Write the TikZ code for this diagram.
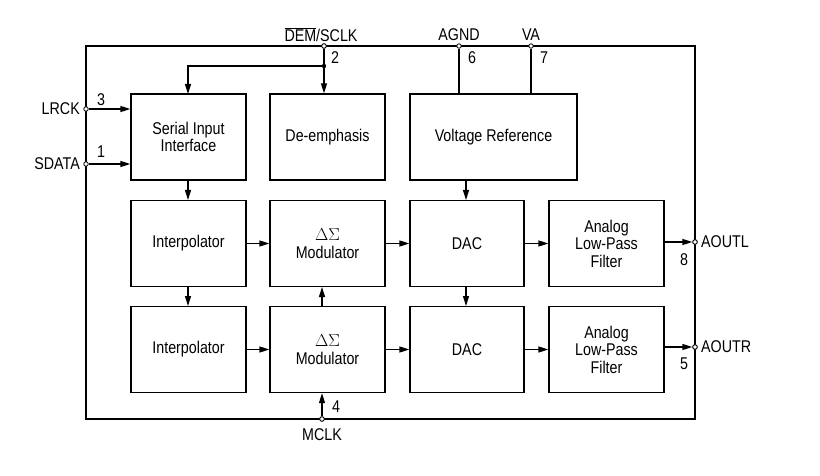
\documentclass[tikz,border=0pt]{standalone}
\usepackage{fontspec}
\setmainfont[FakeStretch=0.84]{Liberation Sans}
\usetikzlibrary{arrows.meta}
\begin{document}
\begin{tikzpicture}[x=1pt,y=-1pt,
  box/.style={draw,line width=1.3pt,minimum width=115pt,minimum height=86pt,inner sep=0pt,align=center,font=\fontsize{17}{17.5}\selectfont},
  frame/.style={draw,line width=2.6pt,minimum width=609pt,minimum height=373pt,inner sep=0pt},
  pinc/.style={circle,draw,fill=white,line width=0.8pt,minimum size=4.5pt,inner sep=0pt},
  lbl/.style={font=\fontsize{17}{17}\selectfont,inner sep=0pt},
  num/.style={font=\fontsize{17}{17}\selectfont,inner sep=0pt},
  wire/.style={line width=1.3pt},
  arr/.style={line width=1.3pt,-{Triangle[length=10pt,width=6pt]}}]
\useasboundingbox (0,0) rectangle (820,476);
\node[frame] (chip) at (390.5,232.5) {};
% row 1
\node[box] (sii) at (188.5,137) {Serial Input\\Interface};
\node[box] (dem) at (327.5,137) {De-emphasis};
\node[box,minimum width=167pt] (vref) at (493.5,137) {Voltage Reference};
% row 2
\node[box] (int1) at (188.5,243.5) {Interpolator};
\node[box] (mod1) at (327.5,243.5) {$\Delta\Sigma$\\Modulator};
\node[box,minimum width=114pt] (dac1) at (467,243.5) {DAC};
\node[box] (lpf1) at (606.5,243.5) {Analog\\Low-Pass\\Filter};
% row 3
\node[box] (int2) at (188.5,349.5) {Interpolator};
\node[box] (mod2) at (327.5,349.5) {$\Delta\Sigma$\\Modulator};
\node[box,minimum width=114pt] (dac2) at (467,349.5) {DAC};
\node[box] (lpf2) at (606.5,349.5) {Analog\\Low-Pass\\Filter};
% pins
\node[pinc] (pdem) at (324,46) {};
\node[pinc] (pagnd) at (459,46) {};
\node[pinc] (pva) at (531,46) {};
\node[pinc] (plrck) at (86,109) {};
\node[pinc] (psdata) at (86,164) {};
\node[pinc] (pmclk) at (322,419) {};
\node[pinc] (paoutl) at (695,242) {};
\node[pinc] (paoutr) at (695,347) {};
\coordinate (j) at (324,66);
% pin labels
\node[lbl] (tdem) at (321,35) {$\overline{\mbox{DEM}}$/SCLK};
\node[lbl] (tagnd) at (459,35) {AGND};
\node[lbl] (tva) at (531,35) {VA};
\node[lbl,anchor=east] (tlrck) at (80,109) {LRCK};
\node[lbl,anchor=east] (tsdata) at (80,164) {SDATA};
\node[lbl] (tmclk) at (322,435) {MCLK};
\node[lbl,anchor=west] (taoutl) at (701,242) {AOUTL};
\node[lbl,anchor=west] (taoutr) at (701,347) {AOUTR};
% pin numbers
\node[num] (n2) at (335,58) {2};
\node[num] (n6) at (472,58) {6};
\node[num] (n7) at (544,58) {7};
\node[num] (n3) at (101,100) {3};
\node[num] (n1) at (101,152) {1};
\node[num] (n4) at (336,407) {4};
\node[num] (n8) at (684,260) {8};
\node[num] (n5) at (684,364) {5};
% connectors
\draw[wire] (pdem) -- (j);
\fill (j) circle (2.2pt);
\draw[arr] (j) -- (j |- dem.north);
\draw[arr] (j) -| (188,94);
\draw[wire] (pagnd) -- (pagnd |- vref.north);
\draw[wire] (pva) -- (pva |- vref.north);
\draw[arr] (plrck) -- (plrck -| sii.west);
\draw[arr] (psdata) -- (psdata -| sii.west);
\draw[arr] (188,180) -- (188,200);
\draw[arr] (188,287) -- (188,306);
\draw[arr] (466,180) -- (466,200);
\draw[arr] (466,287) -- (466,306);
\draw[arr] (322,306) -- (322,287);
\draw[arr] (pmclk) -- (pmclk |- mod2.south);
\draw[arr] (int1.east) -- (mod1.west);
\draw[arr] (mod1.east) -- (dac1.west);
\draw[arr] (dac1.east) -- (lpf1.west);
\draw[arr] (int2.east) -- (mod2.west);
\draw[arr] (mod2.east) -- (dac2.west);
\draw[arr] (dac2.east) -- (lpf2.west);
\draw[arr] (lpf1.east |- paoutl) -- (paoutl.west);
\draw[arr] (lpf2.east |- paoutr) -- (paoutr.west);
\node[pinc] at (paoutl) {};
\node[pinc] at (paoutr) {};
\node[pinc] at (pdem) {};
\node[pinc] at (pmclk) {};
\end{tikzpicture}
\end{document}
